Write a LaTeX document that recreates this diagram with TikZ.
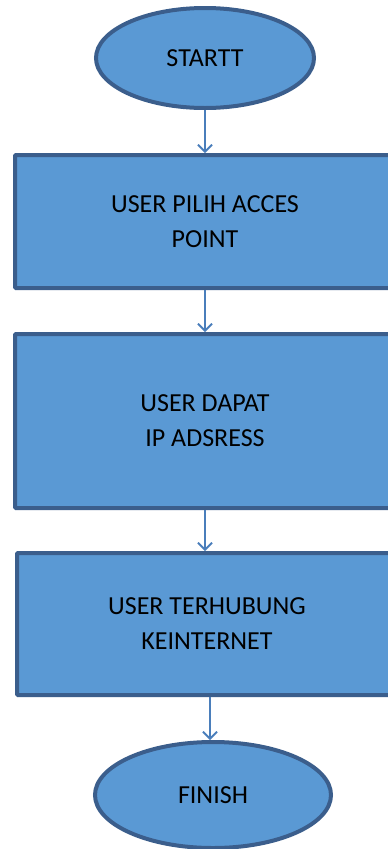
\documentclass[tikz,border=0pt]{standalone}
\usepackage{fontspec}
\setmainfont{Carlito}
\usetikzlibrary{shapes.geometric,arrows.meta}
\definecolor{boxfill}{HTML}{5A99D4}
\definecolor{boxline}{HTML}{3B5E8C}
\definecolor{flowline}{HTML}{4A7EBB}
\begin{document}
\begin{tikzpicture}[x=1pt,y=-1pt,
		every node/.style={font=\fontsize{26}{35}\selectfont, align=center},
		terminal/.style={ellipse, draw=boxline, fill=boxfill, line width=4pt},
		process/.style={rectangle, draw=boxline, fill=boxfill, line width=4pt, rounded corners=1pt, minimum width=380pt},
		flow/.style={draw=flowline, line width=1.5pt, -{Straight Barb[length=7pt,width=14pt,line width=1.8pt]}}]
	\clip (0,0) rectangle (388,849);
	\fill [white] (0,0) rectangle (388,849);
	% start and finish
	\node [terminal, minimum width=218pt, minimum height=100pt] (start) at (205,58) {STARTT};
	\node [terminal, minimum width=236pt, minimum height=106pt] (finish) at (213,795) {FINISH};
	% the three steps
	\node [process, minimum height=133pt] (pilih) at (205,221.5) {USER PILIH ACCES\\POINT};
	\node [process, minimum height=174pt] (dapat) at (205,421) {USER DAPAT\\IP ADSRESS};
	\node [process, minimum height=142pt] (hubung) at (207,624) {USER TERHUBUNG\\KEINTERNET};
	% connectors
	\draw [flow] (start.south -| pilih.north) -- (pilih.north);
	\draw [flow] (pilih) -- (dapat);
	\draw [flow] (dapat.south) -- (dapat.south |- hubung.north);
	\draw [flow] ([xshift=-3pt]finish.north |- hubung.south) -- ([xshift=-3pt]finish.north);
\end{tikzpicture}
\end{document}
